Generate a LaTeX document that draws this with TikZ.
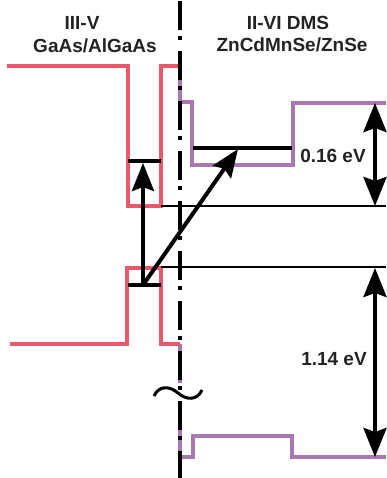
\documentclass[tikz,border=0pt]{standalone}
\usepackage{fontspec}
\setmainfont{Liberation Sans}
\usetikzlibrary{arrows.meta}
\definecolor{gaasred}{RGB}{234,88,108}
\definecolor{dmspurple}{RGB}{168,120,178}
\definecolor{txtgray}{RGB}{35,35,35}
\tikzset{
  redband/.style={draw=gaasred, line width=4pt},
  dmsband/.style={draw=dmspurple, line width=3.2pt},
  levelbar/.style={line width=3.5pt},
  guideline/.style={line width=1.4pt},
  transition/.style={line width=4pt, -{Stealth[length=28pt,width=22pt,inset=4pt]}},
  gaparrow/.style={line width=4pt, {Stealth[length=29pt,width=23pt,inset=4pt]}-{Stealth[length=29pt,width=23pt,inset=4pt]}},
  bandtext/.style={font=\bfseries\fontsize{19}{22}\selectfont, text=txtgray, inner sep=0pt, anchor=base},
  interfaceline/.style={line width=4pt, dash pattern=on 4pt off 11pt on 29pt off 6pt, dash phase=14pt},
  breakmark/.style={line width=3pt}
}
\begin{document}
\begin{tikzpicture}[x=1pt,y=-1pt]
\useasboundingbox (0,0) rectangle (386,478);

% DMS (purple) bands
\draw[dmsband] (180,66) -- (180,102) -- (192,102) -- (192,165) -- (293,165) -- (293,103) -- (386,103);
\draw[dmsband] (180,344) -- (180,383);
\draw[dmsband] (180,410) -- (180,457) -- (193,457) -- (193,436) -- (292,436) -- (292,457) -- (386,457);

% GaAs/AlGaAs (red) bands
\draw[redband] (7,66) -- (128,66) -- (128,206) -- (161,206) -- (161,66) -- (180,66);
\draw[redband] (10,344) -- (127,344) -- (127,268) -- (161,268) -- (161,344) -- (180,344);

% reference lines
\coordinate (cbL) at (161,206);
\coordinate (cbR) at (386,206);
\coordinate (vbL) at (161,267);
\coordinate (vbR) at (386,267);
\draw[guideline] (cbL) -- (cbR);
\draw[guideline] (vbL) -- (vbR);

% confined levels
\coordinate (eL) at (128,161);
\coordinate (eR) at (161,161);
\coordinate (hL) at (128,285);
\coordinate (hR) at (161,285);
\coordinate (dL) at (193,148);
\coordinate (dR) at (292,148);
\draw[levelbar] (eL) -- (eR);
\draw[levelbar] (hL) -- (hR);
\draw[levelbar] (dL) -- (dR);

% transitions
\coordinate (hc) at (143,285);
\coordinate (ec) at (143,163);
\coordinate (dt) at (238,149);
\draw[transition] (hc) -- (ec);
\draw[transition] (hc) -- (dt);

% gap arrows
\coordinate (g1t) at (375,103);
\coordinate (g1b) at (375,206);
\coordinate (g2t) at (375,268);
\coordinate (g2b) at (375,457);
\draw[gaparrow] (g1t) -- (g1b);
\draw[gaparrow] (g2t) -- (g2b);

% interface
\coordinate (ifT) at (180,0);
\coordinate (ifB) at (180,478);
\draw[interfaceline] (ifT) -- (ifB);

% break mark
\draw[breakmark] (154,396) .. controls (159,385) and (170,386) .. (178,393) .. controls (186,400) and (197,401) .. (202,390);

% texts
\node[bandtext] (t1) at (82,30) {III-V};
\node[bandtext] (t2) at (95,53) {GaAs/AlGaAs};
\node[bandtext] (t3) at (288,30) {II-VI DMS};
\node[bandtext] (t4) at (292,52) {ZnCdMnSe/ZnSe};
\node[bandtext] (e1) at (333,163) {0.16 eV};
\node[bandtext] (e2) at (334,365) {1.14 eV};
\end{tikzpicture}
\end{document}
